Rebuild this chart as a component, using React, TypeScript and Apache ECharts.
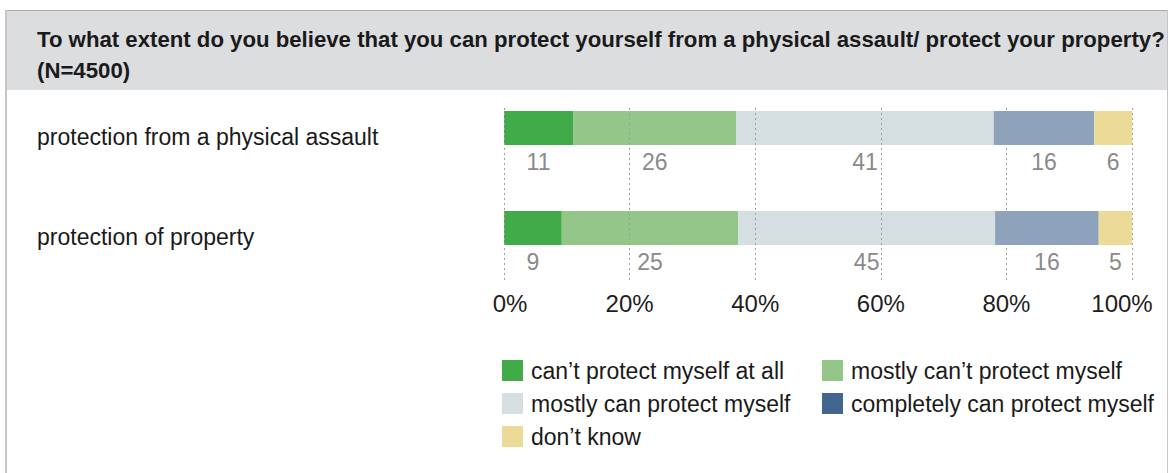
import React, { useEffect, useRef } from "react";
import * as echarts from "echarts";

const titleText =
  "To what extent do you believe that you can protect yourself from a physical assault/ protect your property?\n(N=4500)";

const categories = ["protection from a physical assault", "protection of property"];

const seriesNames = [
  "can’t protect myself at all",
  "mostly can’t protect myself",
  "mostly can protect myself",
  "completely can protect myself",
  "don’t know",
];

// bar widths (percent) as drawn, per series: [assault, property]
const drawnShares = [
  [11, 9.2],
  [26, 28.1],
  [41, 40.9],
  [16, 16.5],
  [6, 5.3],
];

// printed numbers under each segment, per series: [assault, property]
const printedValues = [
  [11, 9],
  [26, 25],
  [41, 45],
  [16, 16],
  [6, 5],
];

const barColors = ["#41ab4a", "#94c68a", "#d5dee0", "#8ca3bb", "#ecda98"];
const legendColors = ["#41ab4a", "#94c68a", "#d5dee0", "#41658e", "#ecda98"];

const xTicks = [0, 20, 40, 60, 80, 100];

const FONT = "'Liberation Sans', Arial, sans-serif";

export default function App() {
  const ref = useRef<HTMLDivElement>(null);

  useEffect(() => {
    document.body.style.margin = "0";
    if (!ref.current) return;
    const chart = echarts.init(ref.current, null, { renderer: "svg" });

    const series = seriesNames.map((name, si) => ({
      name,
      type: "bar",
      stack: "total",
      xAxisIndex: 0,
      yAxisIndex: 0,
      barWidth: 34,
      itemStyle: { color: barColors[si] },
      label: {
        show: true,
        position: "bottom",
        distance: 5,
        color: "#8a8a8a",
        fontSize: 23,
        fontFamily: FONT,
        formatter: (p: any) => String(printedValues[si][p.dataIndex]),
      },
      data: drawnShares[si],
    }));

    const legendItem = (i: number) => ({
      name: seriesNames[i],
      itemStyle: { color: legendColors[i] },
    });

    const legendBase = {
      orient: "vertical",
      top: 359,
      padding: 0,
      itemWidth: 21,
      itemHeight: 21,
      itemGap: 10,
      icon: "rect",
      selectedMode: false,
      textStyle: { fontSize: 23, color: "#1a1a1a", fontFamily: FONT, padding: [0, 0, 0, 3] },
    };

    chart.setOption({
      animation: false,
      textStyle: { fontFamily: FONT },
      title: {
        text: titleText,
        left: 32,
        top: 19,
        textStyle: {
          fontFamily: FONT,
          fontWeight: "bold",
          fontSize: 22.2,
          lineHeight: 31,
          color: "#1a1a1a",
        },
      },
      graphic: [
        {
          type: "rect",
          z: -10,
          shape: { x: 6, y: 10, width: 1161, height: 80 },
          style: { fill: "#dcdddf" },
        },
        {
          type: "line",
          z: -5,
          shape: { x1: 5, y1: 10.5, x2: 1168, y2: 10.5 },
          style: { stroke: "#a9a9a9", lineWidth: 1 },
        },
        {
          type: "line",
          z: -5,
          shape: { x1: 6, y1: 10, x2: 6, y2: 473 },
          style: { stroke: "#c6c6c6", lineWidth: 2 },
        },
        {
          type: "line",
          z: -5,
          shape: { x1: 1167.5, y1: 10, x2: 1167.5, y2: 473 },
          style: { stroke: "#c6c6c6", lineWidth: 1 },
        },
      ],
      legend: [
        { ...legendBase, left: 502, data: [legendItem(0), legendItem(2), legendItem(4)] },
        { ...legendBase, left: 822, data: [legendItem(1), legendItem(3)] },
      ],
      grid: [
        { left: 504, width: 628, top: 78, height: 200 },
        { left: 504, width: 628, top: 108, height: 172 },
      ],
      xAxis: [
        {
          gridIndex: 0,
          type: "value",
          min: xTicks[0],
          max: xTicks[xTicks.length - 1],
          interval: 20,
          axisLine: { show: false },
          axisTick: { show: false },
          splitLine: { show: false },
          axisLabel: {
            formatter: (v: number) =>
              v === xTicks[0] ? `{a|${v}%}` : v === xTicks[xTicks.length - 1] ? `{b|${v}%}` : `${v}%`,
            fontSize: 24,
            color: "#1e1e1e",
            margin: 13,
            fontFamily: FONT,
            rich: {
              a: { fontSize: 24, color: "#1e1e1e", fontFamily: FONT, padding: [0, 0, 0, 12] },
              b: { fontSize: 24, color: "#1e1e1e", fontFamily: FONT, padding: [0, 20, 0, 0] },
            },
          },
        },
        {
          gridIndex: 1,
          type: "value",
          min: xTicks[0],
          max: xTicks[xTicks.length - 1],
          interval: 20,
          z: 10,
          axisLine: { show: false },
          axisTick: { show: false },
          axisLabel: { show: false },
          splitLine: {
            show: true,
            lineStyle: { color: "#a0a0a0", width: 1, type: [2, 3] },
          },
        },
      ],
      yAxis: [
        {
          gridIndex: 0,
          type: "category",
          inverse: true,
          data: categories,
          axisLine: { show: false },
          axisTick: { show: false },
          axisLabel: {
            align: "left",
            margin: 467,
            fontSize: 23,
            lineHeight: 17,
            color: "#1a1a1a",
            fontFamily: FONT,
            verticalAlign: "top",
          },
        },
        {
          gridIndex: 1,
          type: "value",
          show: false,
        },
      ],
      series,
    });

    return () => chart.dispose();
  }, []);

  return <div ref={ref} style={{ width: 1169, height: 473 }} />;
}
